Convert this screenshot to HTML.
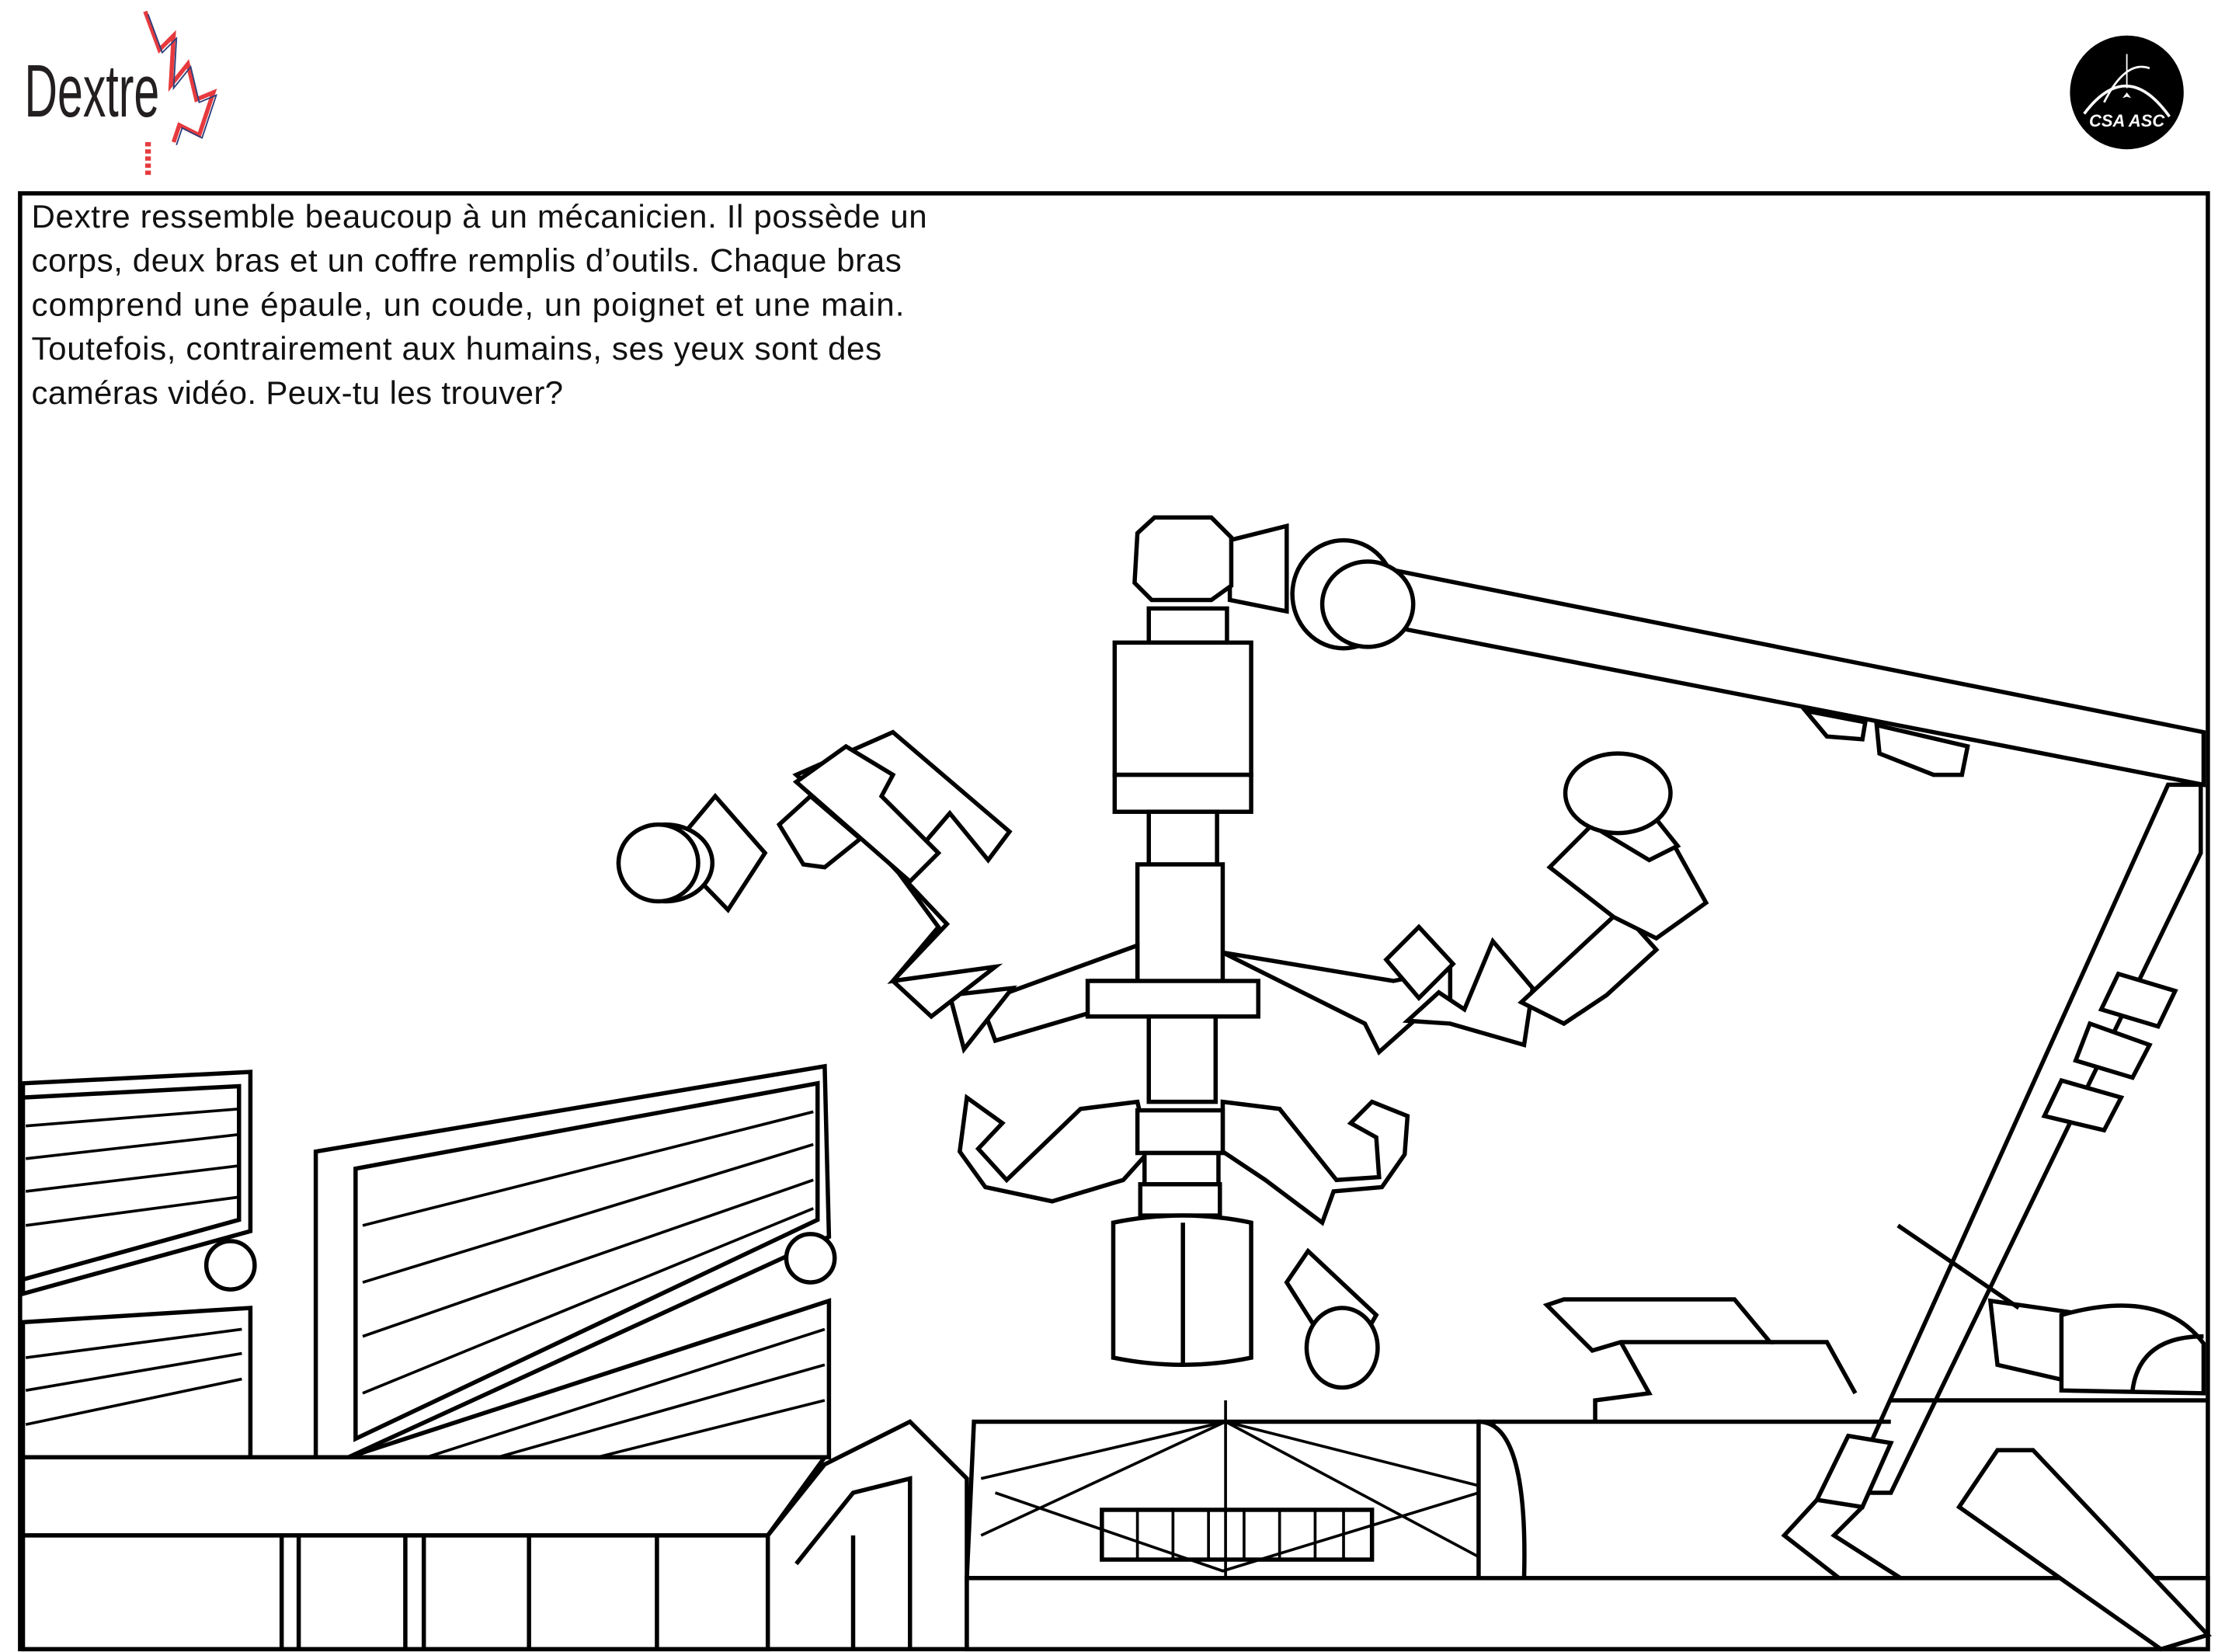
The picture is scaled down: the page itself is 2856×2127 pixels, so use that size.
<!DOCTYPE html>
<html><head><meta charset="utf-8"><style>
html,body{margin:0;padding:0;background:#fff;}
svg{display:block;}
</style></head><body>
<svg width="2856" height="2127" viewBox="0 0 1560 1162" xmlns="http://www.w3.org/2000/svg">
<rect width="1560" height="1162" fill="#fff"/>
<!-- Logo -->
<text x="17" y="82" font-family="Liberation Sans Narrow, Liberation Sans, sans-serif" font-size="52" fill="#231f20" textLength="95" lengthAdjust="spacingAndGlyphs">Dextre</text>
<polyline points="102,8 112,35 122,25 120,60 132,45 138,70 150,65 140,95 126,88 122,100" fill="none" stroke="#e63a3e" stroke-width="3"/>
<polyline points="104,100 104,125" fill="none" stroke="#e63a3e" stroke-width="4" stroke-dasharray="3,2"/>
<polyline points="102,8 112,35 122,25 120,60 132,45 138,70 150,65 140,95 126,88 122,100" fill="none" stroke="#2b3f7a" stroke-width="1" transform="translate(2,2)"/>
<circle cx="1496" cy="65" r="40" fill="#000"/>
<path d="M1466,80 Q1496,40 1526,82" fill="none" stroke="#fff" stroke-width="2"/>
<path d="M1480,72 Q1495,42 1512,48" fill="none" stroke="#fff" stroke-width="1.5"/>
<line x1="1496" y1="38" x2="1496" y2="62" stroke="#fff" stroke-width="1"/>
<path d="M1496,65 l-3,4 3,-1 3,1z" fill="#fff"/>
<text x="1496" y="89" text-anchor="middle" font-family="Liberation Sans, sans-serif" font-weight="bold" font-style="italic" font-size="12" fill="#fff">CSA ASC</text>
<!-- frame -->
<rect x="14" y="136" width="1539" height="1024" fill="none" stroke="#000" stroke-width="3"/>
<g font-family="Liberation Sans, sans-serif" font-size="23" fill="#111">
<text x="22" y="160" textLength="630">Dextre ressemble beaucoup à un mécanicien. Il possède un</text>
<text x="22" y="191" textLength="612">corps, deux bras et un coffre remplis d’outils. Chaque bras</text>
<text x="22" y="222" textLength="614">comprend une épaule, un coude, un poignet et une main.</text>
<text x="22" y="253" textLength="598">Toutefois, contrairement aux humains, ses yeux sont des</text>
<text x="22" y="284" textLength="374">caméras vidéo. Peux-tu les trouver?</text>
</g>
<g fill="#fff" stroke="#000" stroke-width="3" stroke-linejoin="miter">
<!-- boom -->
<polygon points="975,400 1550,515 1550,552 975,440"/>
<polygon points="1270,500 1285,518 1310,520 1312,508"/>
<polygon points="1320,510 1322,530 1360,545 1380,545 1384,525"/>
<!-- right strut -->
<polygon points="1525,552 1548,552 1548,600 1330,1050 1300,1050"/>
<polygon points="1300,1010 1330,1015 1310,1060 1278,1055"/>
<polyline points="1278,1055 1255,1080 1300,1115 1285,1160" fill="none"/>
<polyline points="1310,1060 1290,1080 1340,1112 1310,1160" fill="none"/>
<polygon points="1490,685 1530,697 1518,722 1478,710"/>
<polygon points="1470,720 1512,735 1500,758 1460,746"/>
<polygon points="1450,760 1492,772 1480,795 1438,785"/>
<!-- shoulder -->
<path d="M865,380 L905,370 L905,430 L865,422 Z"/>
<ellipse cx="945" cy="418" rx="36" ry="38"/>
<ellipse cx="962" cy="425" rx="32" ry="30"/>
<path d="M800,375 L812,364 L852,364 L866,378 L866,412 L852,422 L810,422 L798,410 Z"/>
<rect x="808" y="428" width="55" height="24"/>
<rect x="784" y="452" width="96" height="93"/>
<rect x="784" y="545" width="96" height="26"/>
<rect x="808" y="571" width="48" height="42"/>
<rect x="800" y="608" width="60" height="85"/>
<!-- left arm -->
<polygon points="800,665 690,705 700,732 768,712 768,690 800,690"/>
<polygon points="668,700 712,695 678,738"/>
<polygon points="628,690 666,650 632,614 668,572 695,605 710,585 628,515 560,545 600,580 632,614 660,652 628,690 655,715 700,680"/>
<polygon points="560,550 595,525 628,545 620,560 660,600 640,620"/>
<polygon points="548,580 570,560 605,590 580,610 565,608"/>
<polygon points="478,590 503,560 538,600 512,640 478,605"/>
<ellipse cx="468" cy="607" rx="33" ry="27"/>
<ellipse cx="463" cy="607" rx="28" ry="27"/>
<!-- right arm -->
<polygon points="860,670 960,720 970,740 998,715 1020,705 1020,682 980,690 860,670"/>
<polygon points="975,675 998,652 1022,678 998,702"/>
<polygon points="990,718 1012,698 1030,710 1050,662 1078,695 1072,735 1020,720"/>
<polygon points="1070,705 1140,640 1165,668 1130,700 1100,720"/>
<polygon points="1090,610 1120,580 1175,590 1200,635 1165,660 1135,645"/>
<polygon points="1110,575 1160,570 1180,595 1160,605"/>
<ellipse cx="1138" cy="558" rx="37" ry="28"/>
<rect x="765" y="690" width="120" height="25"/>
<rect x="808" y="715" width="47" height="60"/>
<!-- lower arms -->
<polygon points="800,775 760,780 708,830 688,808 705,790 680,772 675,810 693,835 740,845 790,830 808,810"/>
<polygon points="860,775 900,780 940,830 970,828 968,800 950,790 965,775 990,785 988,812 972,835 938,838 930,860 890,830 860,810"/>
<rect x="800" y="781" width="60" height="30"/>
<rect x="805" y="811" width="52" height="22"/>
<rect x="802" y="833" width="56" height="22"/>
<path d="M783,860 Q832,850 880,860 L880,955 Q832,965 783,955 Z"/>
<line x1="832" y1="860" x2="832" y2="960"/>
<path d="M920,880 L968,925 L945,965 L905,902 Z"/>
<ellipse cx="944" cy="948" rx="25" ry="28"/>
<!-- left panels -->
<polygon points="16,762 176,754 176,866 16,910"/>
<polygon points="16,772 168,764 168,858 16,900"/>
<polygon points="16,930 176,920 176,1025 16,1025"/>
<polygon points="222,810 580,750 583,870 245,1025 222,1025"/>
<polygon points="250,822 575,762 575,858 250,1012"/>
<polygon points="245,1025 583,915 583,1025"/>
<circle cx="162" cy="890" r="17"/>
<circle cx="570" cy="885" r="17"/>
</g>
<g stroke="#000" stroke-width="2" fill="none">
<line x1="18" y1="792" x2="168" y2="780"/><line x1="18" y1="815" x2="168" y2="798"/>
<line x1="18" y1="838" x2="168" y2="820"/><line x1="18" y1="862" x2="168" y2="842"/>
<line x1="18" y1="955" x2="170" y2="935"/><line x1="18" y1="978" x2="170" y2="952"/>
<line x1="18" y1="1002" x2="170" y2="970"/>
<line x1="255" y1="862" x2="572" y2="782"/><line x1="255" y1="902" x2="572" y2="805"/>
<line x1="255" y1="940" x2="572" y2="830"/><line x1="255" y1="980" x2="572" y2="850"/>
<line x1="300" y1="1025" x2="580" y2="935"/><line x1="350" y1="1025" x2="580" y2="960"/>
<line x1="420" y1="1025" x2="580" y2="985"/>
</g>
<g fill="#fff" stroke="#000" stroke-width="3">
<!-- bottom left block -->
<polygon points="16,1025 580,1025 540,1080 16,1080"/>
<rect x="16" y="1080" width="524" height="80"/>
<line x1="198" y1="1080" x2="198" y2="1160"/><line x1="210" y1="1080" x2="210" y2="1160"/>
<line x1="285" y1="1080" x2="285" y2="1160"/><line x1="298" y1="1080" x2="298" y2="1160"/>
<line x1="372" y1="1080" x2="372" y2="1160"/><line x1="462" y1="1080" x2="462" y2="1160"/>
<polyline points="540,1080 580,1030 640,1000 680,1040 680,1160" fill="none"/>
<polyline points="560,1100 600,1050 640,1040 640,1160" fill="none"/>
<line x1="600" y1="1080" x2="600" y2="1160"/>
<!-- center module -->
<polygon points="685,1000 1050,1000 1072,1110 680,1110"/>
<rect x="680" y="1110" width="873" height="50"/>
<path d="M1040,1000 Q1075,1000 1072,1110 L1040,1110 Z"/>
<polyline points="1050,1000 1330,1000" fill="none"/>
<polyline points="1330,985 1553,985" fill="none"/>
<rect x="775" y="1062" width="190" height="35"/>
</g>
<g stroke="#000" stroke-width="2" fill="none">
<line x1="862" y1="985" x2="862" y2="1110"/>
<polyline points="690,1040 862,1000 1040,1045"/>
<polyline points="690,1080 862,1000 1040,1095"/>
<polyline points="700,1050 860,1105 1040,1050"/>
<line x1="800" y1="1062" x2="800" y2="1097"/><line x1="825" y1="1062" x2="825" y2="1097"/>
<line x1="850" y1="1062" x2="850" y2="1097"/><line x1="875" y1="1062" x2="875" y2="1097"/>
<line x1="900" y1="1062" x2="900" y2="1097"/><line x1="925" y1="1062" x2="925" y2="1097"/>
<line x1="945" y1="1062" x2="945" y2="1097"/>
</g>
<g fill="#fff" stroke="#000" stroke-width="3">
<polygon points="1088,918 1100,914 1220,914 1245,944 1140,944 1120,950"/>
<polyline points="1140,944 1160,980 1122,985 1122,1000" fill="none"/>
<polyline points="1245,944 1285,944 1305,980" fill="none"/>
<polygon points="1400,915 1470,925 1470,975 1405,960"/>
<path d="M1450,925 Q1520,905 1550,945 L1550,980 L1450,978 Z"/>
<path d="M1500,978 Q1505,940 1550,940" fill="none"/>
<line x1="1335" y1="862" x2="1420" y2="920"/>
<polygon points="1405,1020 1430,1020 1553,1150 1520,1160 1378,1060"/>
</g>
</svg>
</body></html>
